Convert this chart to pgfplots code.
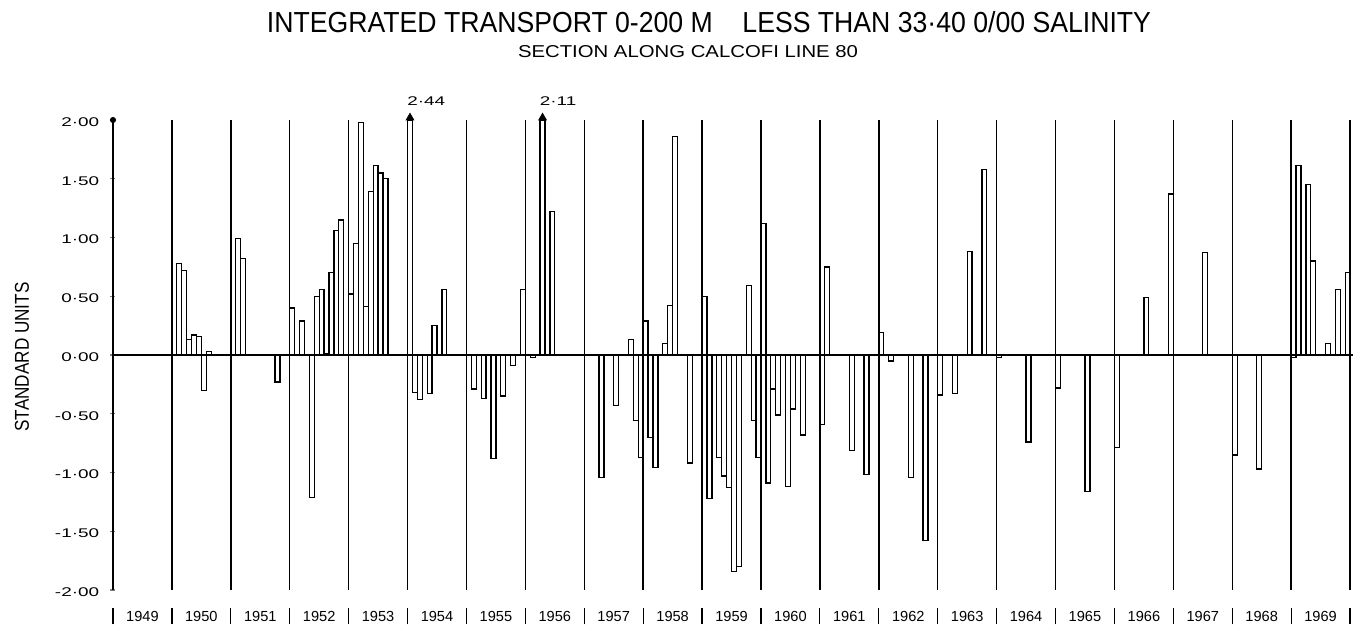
\documentclass[border=0pt]{standalone}
\usepackage{pgfplots}
\pgfplotsset{compat=1.18}
\usepackage{pgfplotstable}
\usepackage{graphicx}
\usepackage{fontspec}
\setmainfont{Liberation Sans}

% Monthly anomaly of integrated transport (standard units); yr, month offset (0 = Jan), value
\pgfplotstableread{
yr   mo  v
1950 1  0.78
1950 2  0.72
1950 3  0.13
1950 4  0.17
1950 5  0.16
1950 6 -0.30
1950 7  0.03
1951 1  0.99
1951 2  0.82
1951 9 -0.23
1952 0  0.40
1952 2  0.29
1952 4 -1.21
1952 5  0.50
1952 6  0.56
1952 7  0.01
1952 8  0.70
1952 9  1.06
1952 10 1.15
1953 0  0.52
1953 1  0.95
1953 2  1.98
1953 3  0.41
1953 4  1.39
1953 5  1.61
1953 6  1.55
1953 7  1.50
1954 0  2.44
1954 1 -0.32
1954 2 -0.38
1954 4 -0.33
1954 5  0.25
1954 7  0.56
1955 1 -0.29
1955 3 -0.37
1955 5 -0.88
1955 7 -0.35
1955 9 -0.09
1955 11 0.56
1956 1 -0.02
1956 3  2.11
1956 5  1.22
1957 3 -1.04
1957 6 -0.43
1957 9  0.13
1957 10 -0.56
1957 11 -0.87
1958 0  0.29
1958 1 -0.70
1958 2 -0.96
1958 4  0.10
1958 5  0.42
1958 6  1.86
1958 9 -0.92
1959 0  0.50
1959 1 -1.22
1959 3 -0.87
1959 4 -1.03
1959 5 -1.13
1959 6 -1.84
1959 7 -1.80
1959 9  0.59
1959 10 -0.56
1959 11 -0.87
1960 0  1.12
1960 1 -1.09
1960 2 -0.29
1960 3 -0.51
1960 5 -1.12
1960 6 -0.46
1960 8 -0.68
1961 0 -0.59
1961 1  0.75
1961 6 -0.81
1961 9 -1.02
1962 0  0.19
1962 2 -0.05
1962 6 -1.04
1962 9 -1.58
1963 0 -0.34
1963 3 -0.33
1963 6  0.88
1963 9  1.58
1964 0 -0.02
1964 6 -0.74
1965 0 -0.28
1965 6 -1.16
1966 0 -0.79
1966 6  0.49
1966 11 1.37
1967 6  0.87
1968 0 -0.85
1968 5 -0.97
1969 0 -0.02
1969 1  1.61
1969 3  1.45
1969 4  0.80
1969 7  0.10
1969 9  0.56
1969 11 0.70
}\transport

\newcommand\tl[1]{\scalebox{1.5}[1]{#1}}
\newcommand\sep{\rule{0.6pt}{8pt}}

\begin{document}
\begin{tikzpicture}
\begin{axis}[
  scale only axis, width=620pt, height=235pt,
  xmin=0, xmax=252.6, ymin=-2, ymax=2,
  clip=false,
  axis y line=left, axis x line=bottom,
  x axis line style={draw=none},
  y axis line style={-, line width=0.7pt},
  tick align=center, major tick length=2.5pt,
  ytick={-2,-1.5,-1,-0.5,0,0.5,1,1.5,2},
  yticklabels={\tl{-2·00},\tl{-1·50},\tl{-1·00},\tl{-0·50},\tl{0·00},\tl{0·50},\tl{1·00},\tl{1·50},\tl{2·00}},
  yticklabel style={font=\fontsize{6.3}{7}\selectfont, anchor=east, inner sep=0pt, xshift=-5.5pt, yshift=-1pt},
  ytick style={line width=0.7pt},
  xtick={6,18,30,42,54,66,78,90,102,114,126,138,150,162,174,186,198,210,222,234,246},
  xticklabels={1949,1950,1951,1952,1953,1954,1955,1956,1957,1958,1959,1960,1961,1962,1963,1964,1965,1966,1967,1968,1969},
  xtick style={draw=none},
  xticklabel style={font=\fontsize{7.3}{8}\selectfont, anchor=center, inner sep=0pt, yshift=-12pt},
  extra x ticks={0,12,24,36,48,60,72,84,96,108,120,132,144,156,168,180,192,204,216,228,240,252},
  extra x tick labels={\sep,\sep,\sep,\sep,\sep,\sep,\sep,\sep,\sep,\sep,\sep,\sep,\sep,\sep,\sep,\sep,\sep,\sep,\sep,\sep,\sep,\sep},
  extra x tick style={grid=major},
  major grid style={line width=0.7pt, black},
]
% monthly bars, values beyond the frame are cut at the top
\addplot[ybar, bar width=1, bar shift=0pt, draw=black, fill=none, line width=0.65pt,
  restrict y to domain*=-2:2]
  table[x expr={(\thisrow{yr}-1949)*12+\thisrow{mo}+0.5}, y=v]{\transport};
% zero line
\addplot[line width=1.1pt, black] coordinates {(0,0) (252.6,0)};
% off-scale values
\addplot[only marks, mark=triangle*, mark size=2.2pt, mark options={yshift=1.1pt, fill=black},
  point meta=explicit symbolic, nodes near coords={\tl{\pgfplotspointmeta}},
  nodes near coords style={anchor=south west, inner sep=0pt, xshift=-1.5pt, yshift=6pt,
    font=\fontsize{6.3}{7}\selectfont}]
  coordinates {(60.5,2)[2·44] (87.5,2)[2·11]};
% axis end dot
\addplot[only marks, mark=*, mark size=1.3pt] coordinates {(0,2)};
\end{axis}
\node at (298pt,283.75pt) {\resizebox{442pt}{10.5pt}{INTEGRATED TRANSPORT 0-200 M\ \ \ \ LESS THAN 33·40 0/00 SALINITY}};
\node at (287.5pt,269.25pt) {\resizebox{170pt}{6pt}{SECTION ALONG CALCOFI LINE 80}};
\node[rotate=90] at (-45.5pt,116.5pt) {\resizebox{74.5pt}{7pt}{STANDARD UNITS}};
\pgfresetboundingbox
\useasboundingbox (-56.5pt,-23pt) rectangle (620pt,295pt);
\end{tikzpicture}
\end{document}
